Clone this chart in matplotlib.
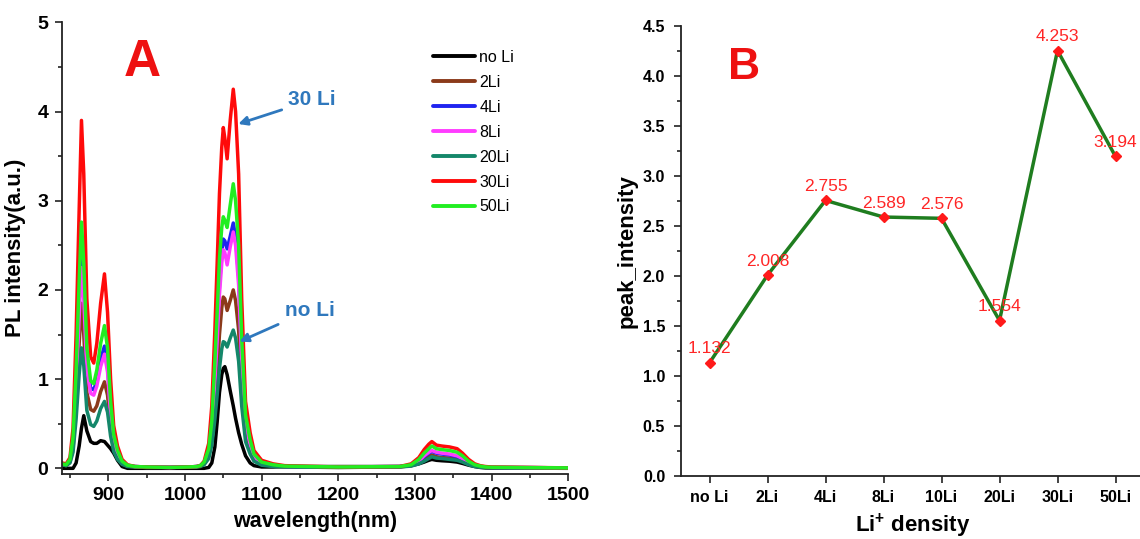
import matplotlib
matplotlib.use("Agg")
import matplotlib.pyplot as plt
from matplotlib import font_manager
from matplotlib.ticker import MultipleLocator, FormatStrFormatter

# ---------------- data ----------------
wavelength = [840, 845, 850, 854, 858, 862, 865, 868, 872, 877,
              881, 885, 890, 895, 899, 903, 907, 912, 918, 925,
              935, 950, 980, 1005, 1015, 1020, 1025, 1031, 1035, 1039,
              1042, 1045, 1048, 1050, 1052, 1055, 1059, 1063, 1066, 1070,
              1074, 1079, 1085, 1090, 1100, 1115, 1130, 1200, 1280, 1295,
              1305, 1312, 1318, 1322, 1328, 1335, 1345, 1355, 1362, 1370,
              1378, 1385, 1392, 1400, 1450, 1500]

pl_no_li = [0.0, 0.0, 0.0, 0.0, 0.06, 0.25, 0.45, 0.59, 0.42, 0.30,
            0.28, 0.28, 0.31, 0.30, 0.26, 0.22, 0.17, 0.09, 0.02, 0.0,
            0.0, 0.0, 0.0, 0.0, 0.0, 0.0, 0.0, 0.01, 0.06, 0.24,
            0.52, 0.85, 1.05, 1.12, 1.14, 1.05, 0.87, 0.70, 0.56, 0.40,
            0.27, 0.14, 0.06, 0.03, 0.015, 0.015, 0.02, 0.02, 0.02, 0.03,
            0.05, 0.07, 0.09, 0.10, 0.09, 0.085, 0.08, 0.07, 0.055, 0.035,
            0.02, 0.01, 0.005, 0.003, 0.002, 0.0]

pl_2li = [0.04, 0.03, 0.07, 0.22, 0.72, 1.40, 1.85, 1.50, 0.85, 0.66,
          0.64, 0.70, 0.86, 0.97, 0.82, 0.46, 0.24, 0.12, 0.05, 0.025,
          0.015, 0.01, 0.01, 0.012, 0.015, 0.025, 0.05, 0.14, 0.33, 0.72,
          1.08, 1.50, 1.80, 1.92, 1.90, 1.77, 1.88, 2.00, 1.88, 1.55,
          0.90, 0.38, 0.20, 0.10, 0.045, 0.025, 0.015, 0.01, 0.015, 0.03,
          0.06, 0.10, 0.13, 0.15, 0.13, 0.12, 0.115, 0.10, 0.08, 0.045,
          0.025, 0.015, 0.01, 0.008, 0.006, 0.004]

pl_4li = [0.05, 0.04, 0.09, 0.30, 1.00, 1.90, 2.50, 2.10, 1.20, 0.90,
          0.88, 0.98, 1.22, 1.37, 1.15, 0.65, 0.33, 0.17, 0.07, 0.03,
          0.02, 0.015, 0.01, 0.015, 0.02, 0.03, 0.06, 0.19, 0.46, 1.02,
          1.50, 2.05, 2.42, 2.57, 2.55, 2.46, 2.60, 2.75, 2.60, 2.15,
          1.25, 0.52, 0.28, 0.14, 0.06, 0.035, 0.02, 0.015, 0.02, 0.035,
          0.08, 0.13, 0.17, 0.19, 0.17, 0.16, 0.15, 0.13, 0.10, 0.06,
          0.03, 0.02, 0.012, 0.01, 0.008, 0.005]

pl_8li = [0.05, 0.04, 0.09, 0.28, 0.90, 1.70, 2.25, 1.90, 1.10, 0.84,
          0.82, 0.92, 1.14, 1.28, 1.08, 0.60, 0.31, 0.16, 0.065, 0.03,
          0.02, 0.015, 0.01, 0.015, 0.02, 0.03, 0.06, 0.18, 0.44, 0.98,
          1.43, 1.95, 2.30, 2.45, 2.42, 2.28, 2.48, 2.65, 2.50, 2.05,
          1.20, 0.50, 0.27, 0.13, 0.06, 0.035, 0.02, 0.015, 0.02, 0.035,
          0.08, 0.14, 0.18, 0.20, 0.18, 0.17, 0.16, 0.14, 0.11, 0.06,
          0.03, 0.02, 0.012, 0.01, 0.008, 0.005]

pl_20li = [0.04, 0.03, 0.06, 0.18, 0.55, 1.05, 1.35, 1.15, 0.65, 0.49,
           0.47, 0.53, 0.67, 0.75, 0.63, 0.36, 0.19, 0.10, 0.045, 0.02,
           0.015, 0.01, 0.01, 0.012, 0.015, 0.02, 0.04, 0.11, 0.26, 0.55,
           0.82, 1.12, 1.34, 1.42, 1.41, 1.36, 1.46, 1.55, 1.46, 1.20,
           0.70, 0.30, 0.16, 0.08, 0.035, 0.02, 0.015, 0.01, 0.015, 0.025,
           0.05, 0.08, 0.11, 0.13, 0.115, 0.11, 0.10, 0.09, 0.07, 0.04,
           0.02, 0.012, 0.008, 0.006, 0.005, 0.004]

pl_30li = [0.06, 0.05, 0.12, 0.45, 1.50, 2.90, 3.90, 3.30, 1.90, 1.25,
           1.18, 1.40, 1.85, 2.18, 1.75, 1.00, 0.48, 0.25, 0.10, 0.04,
           0.02, 0.015, 0.01, 0.015, 0.02, 0.03, 0.08, 0.28, 0.70, 1.55,
           2.30, 3.08, 3.60, 3.82, 3.70, 3.47, 3.90, 4.25, 4.00, 3.30,
           1.90, 0.75, 0.40, 0.20, 0.09, 0.05, 0.03, 0.015, 0.02, 0.05,
           0.12, 0.21, 0.27, 0.30, 0.26, 0.25, 0.24, 0.22, 0.17, 0.10,
           0.05, 0.03, 0.02, 0.015, 0.01, 0.005]

pl_50li = [0.05, 0.04, 0.10, 0.35, 1.10, 2.10, 2.76, 2.30, 1.35, 0.98,
           0.95, 1.10, 1.40, 1.60, 1.35, 0.75, 0.38, 0.20, 0.08, 0.035,
           0.02, 0.015, 0.01, 0.015, 0.02, 0.03, 0.07, 0.22, 0.53, 1.20,
           1.75, 2.35, 2.70, 2.82, 2.78, 2.70, 2.95, 3.19, 3.00, 2.50,
           1.45, 0.60, 0.32, 0.16, 0.07, 0.04, 0.025, 0.015, 0.02, 0.04,
           0.10, 0.17, 0.22, 0.25, 0.22, 0.21, 0.20, 0.18, 0.14, 0.08,
           0.04, 0.025, 0.015, 0.012, 0.008, 0.005]

spectra_labels = ["no Li", "2Li", "4Li", "8Li", "20Li", "30Li", "50Li"]
spectra_colors = ["#000000", "#8b3a1a", "#1f24f0", "#ff3cff", "#14876a", "#ff0a0a", "#22ee22"]

density_labels = ["no Li", "2Li", "4Li", "8Li", "10Li", "20Li", "30Li", "50Li"]
peak_intensity = [1.132, 2.008, 2.755, 2.589, 2.576, 1.554, 4.253, 3.194]

# ---------------- fonts ----------------
installed = {f.name for f in font_manager.fontManager.ttflist}
SANS = "Liberation Sans" if "Liberation Sans" in installed else "DejaVu Sans"
NARROW = "Liberation Sans Narrow" if "Liberation Sans Narrow" in installed else SANS
plt.rcParams["font.family"] = [SANS, "DejaVu Sans"]
plt.rcParams["mathtext.fontset"] = "custom"
plt.rcParams["mathtext.rm"] = SANS
plt.rcParams["mathtext.bf"] = SANS + ":bold"

W, H = 1140, 539
fig = plt.figure(figsize=(W / 100, H / 100), dpi=100)

AXIS_COLOR = "#222222"


def style_axes(ax):
    for side in ("top", "right"):
        ax.spines[side].set_visible(False)
    for side in ("left", "bottom"):
        ax.spines[side].set_linewidth(1.3)
        ax.spines[side].set_color(AXIS_COLOR)
    ax.tick_params(which="both", direction="out", color=AXIS_COLOR, width=1.2)
    ax.tick_params(which="major", length=5)
    ax.tick_params(which="minor", length=3)


# ---------------- panel A: PL spectra ----------------
axA = fig.add_axes([62.3 / W, 1 - 474.3 / H, 506 / W, 452 / H])
style_axes(axA)
series = [pl_no_li, pl_2li, pl_4li, pl_8li, pl_20li, pl_30li, pl_50li]
for vals, lab, col in zip(series, spectra_labels, spectra_colors):
    axA.plot(wavelength, vals, color=col, lw=2.5, label=lab,
             solid_joinstyle="round", solid_capstyle="round")

axA.set_xlim(840, 1500)
axA.set_ylim(-0.067, 5.0)
axA.xaxis.set_major_locator(MultipleLocator(100))
axA.xaxis.set_minor_locator(MultipleLocator(50))
axA.yaxis.set_major_locator(MultipleLocator(1))
axA.yaxis.set_minor_locator(MultipleLocator(0.5))
for lab in axA.get_xticklabels() + axA.get_yticklabels():
    lab.set_fontfamily(NARROW)
    lab.set_fontweight("bold")
    lab.set_fontsize(14)
axA.tick_params(axis="x", pad=4)
axA.tick_params(axis="y", pad=5)
axA.set_xlabel("wavelength(nm)", fontsize=15.5, fontweight="bold", labelpad=5)
axA.set_ylabel("PL intensity(a.u.)", fontsize=16, fontweight="bold", labelpad=8)

axA.text(142.5 / W, 1 - 62 / H, "A", transform=fig.transFigure, color="#ee1111",
         fontsize=37, fontweight="bold", ha="center", va="center")

leg = axA.legend(loc="upper left", bbox_to_anchor=(433 / W, 1 - 50 / H),
                 bbox_transform=fig.transFigure, frameon=False, borderpad=0,
                 borderaxespad=0, handlelength=2.6, handletextpad=0.3,
                 labelspacing=0.62, prop={"family": NARROW, "size": 11.5})
for line in leg.get_lines():
    line.set_linewidth(2.8)

ARROW_BLUE = "#2f78bd"
axA.annotate("30 Li", xy=(1069.5, 3.86), xytext=(1135, 4.13), color=ARROW_BLUE,
             fontsize=15, fontweight="bold", ha="left", va="center",
             arrowprops=dict(arrowstyle="-|>", color=ARROW_BLUE, lw=2.0,
                             mutation_scale=13, shrinkA=3, shrinkB=0))
axA.annotate("no Li", xy=(1071, 1.42), xytext=(1130, 1.77), color=ARROW_BLUE,
             fontsize=15, fontweight="bold", ha="left", va="center",
             arrowprops=dict(arrowstyle="-|>", color=ARROW_BLUE, lw=2.0,
                             mutation_scale=13, shrinkA=3, shrinkB=0))

# ---------------- panel B: peak intensity ----------------
axB = fig.add_axes([680.5 / W, 1 - 476.1 / H, 464 / W, 450.3 / H])
style_axes(axB)
xpos = list(range(len(density_labels)))
axB.plot(xpos, peak_intensity, color="#1f7d1f", lw=2.5, zorder=2)
axB.plot(xpos, peak_intensity, linestyle="none", marker="D", ms=5.5,
         mfc="#ff1a1a", mec="#ff1a1a", zorder=3)
for xi, v in zip(xpos, peak_intensity):
    axB.annotate(f"{v:.3f}", xy=(xi, v), xytext=(0, 10), textcoords="offset points",
                 ha="center", va="center", color="#ff2626", fontsize=12.5, zorder=4)

axB.set_xlim(-0.5, 7.5)
axB.set_ylim(0, 4.5)
axB.set_xticks(xpos)
axB.set_xticklabels(density_labels)
axB.yaxis.set_major_locator(MultipleLocator(0.5))
axB.yaxis.set_minor_locator(MultipleLocator(0.25))
axB.yaxis.set_major_formatter(FormatStrFormatter("%.1f"))
for lab in axB.get_xticklabels() + axB.get_yticklabels():
    lab.set_fontfamily(NARROW)
    lab.set_fontweight("bold")
    lab.set_fontsize(11.5)
axB.tick_params(axis="x", pad=5)
axB.tick_params(axis="y", pad=6)
axB.set_xlabel(r"Li$^{\mathbf{+}}$ density", fontsize=16, fontweight="bold", labelpad=5)
axB.set_ylabel("peak_intensity", fontsize=16, fontweight="bold", labelpad=4)

axB.text(744 / W, 1 - 67 / H, "B", transform=fig.transFigure, color="#ee1111",
         fontsize=32, fontweight="bold", ha="center", va="center")

fig.savefig("out.png", dpi=100, facecolor="white")
